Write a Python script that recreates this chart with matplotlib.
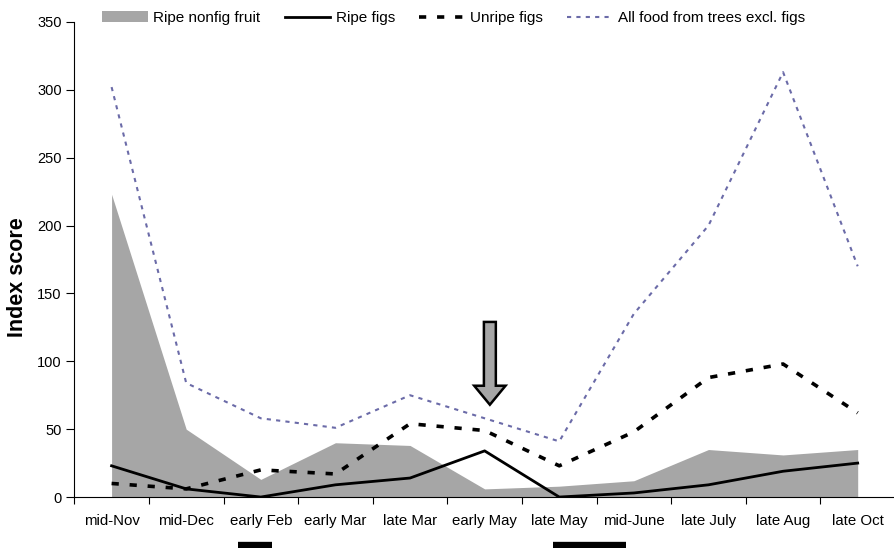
import numpy as np
import matplotlib
matplotlib.use("Agg")
import matplotlib.pyplot as plt
from matplotlib.patches import FancyArrow

plt.rcParams['font.family'] = ['Liberation Sans', 'DejaVu Sans']

periods = ['mid-Nov', 'mid-Dec', 'early Feb', 'early Mar', 'late Mar', 'early May',
           'late May', 'mid-June', 'late July', 'late Aug', 'late Oct']
ripe_nonfig = [223, 50, 13, 40, 38, 6, 8, 12, 35, 31, 35]
ripe_figs = [23, 6, 0, 9, 14, 34, 0, 3, 9, 19, 25]
unripe_figs = [10, 6, 20, 17, 54, 49, 23, 48, 88, 98, 62]
all_trees = [302, 84, 58, 51, 75, 58, 41, 135, 200, 313, 170]

# black bars under the axis (start, end in category units)
bar_spans = [(1.70, 2.15), (5.92, 6.89)]

fig = plt.figure(figsize=(8.95, 5.48), dpi=100)
ax = fig.add_axes([0.083, 0.093, 0.917, 0.867])

x = np.arange(len(periods))
ax.fill_between(x, ripe_nonfig, 0, color='#a6a6a6', lw=0, label='Ripe nonfig fruit')
ax.plot(x, ripe_figs, color='black', lw=2, label='Ripe figs')
ax.plot(x, unripe_figs, color='black', lw=2.6, ls=(0, (2, 3)), label='Unripe figs')
ax.plot(x, all_trees, color='#6b6ba8', lw=1.5, ls=(0, (2, 2.5)),
        label='All food from trees excl. figs')

arrow = FancyArrow(5.07, 129, 0, -61, width=0.16, head_width=0.42, head_length=14,
                   length_includes_head=True, facecolor='#a6a6a6', edgecolor='black', lw=1.8)
ax.add_patch(arrow)

ax.set_xlim(-0.5, len(periods) - 0.5)
ax.set_ylim(0, 350)
ax.set_yticks(range(0, 351, 50))
ax.set_xticks(np.arange(len(periods) + 1) - 0.5)
ax.set_xticklabels([])
ax.set_xticks(x, minor=True)
ax.set_xticklabels(periods, minor=True)
ax.tick_params(axis='x', which='major', length=5, direction='out')
ax.tick_params(axis='x', which='minor', length=0, pad=12, labelsize=10.8)
ax.tick_params(axis='y', length=6, direction='out', labelsize=10.5, pad=3)
for s in ['top', 'right']:
    ax.spines[s].set_visible(False)
ax.set_ylabel('Index score', fontsize=15.5, fontweight='bold')
ax.yaxis.set_label_coords(-0.056, 0.463)

for a, b in bar_spans:
    ax.plot([a, b], [-0.103, -0.103], color='black', lw=6, solid_capstyle='butt',
            transform=ax.get_xaxis_transform(), clip_on=False)

ax.legend(loc='center left', bbox_to_anchor=(0.034, 1.008), ncol=4, frameon=False,
          fontsize=11, handlelength=3, columnspacing=1.6, handletextpad=0.33,
          borderaxespad=0, borderpad=0)

fig.savefig('out.png', dpi=100)
